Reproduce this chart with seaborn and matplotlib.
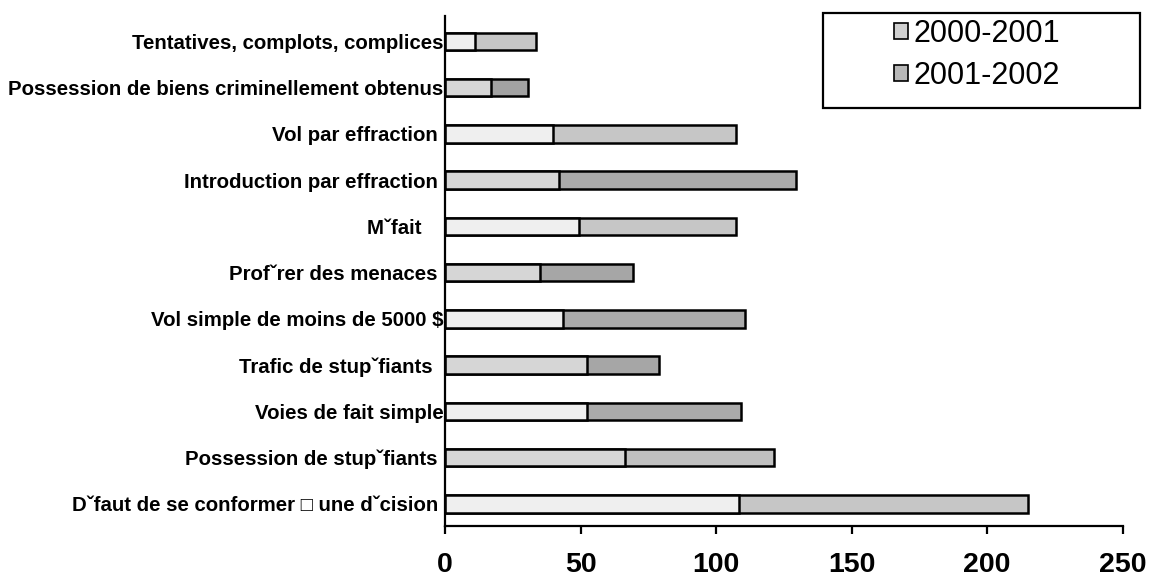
import matplotlib
matplotlib.use('Agg')
import matplotlib.pyplot as plt
import seaborn as sns
import pandas as pd
from matplotlib.patches import Patch, Rectangle

# Données
categories = [
    'Tentatives, complots, complices',
    'Possession de biens criminellement obtenus',
    'Vol par effraction ',
    'Introduction par effraction ',
    'M\u02c7fait    ',
    'Prof\u02c7rer des menaces ',
    'Vol simple de moins de 5000 $',
    'Trafic de stup\u02c7fiants  ',
    'Voies de fait simple',
    'Possession de stup\u02c7fiants ',
    'D\u02c7faut de se conformer \u25a1 une d\u02c7cision ',
]
v_2000_2001 = [11, 17, 40, 42, 49.5, 35, 43.5, 52.5, 52.3, 66.5, 108.3]
v_2001_2002 = [22.5, 13.5, 67.5, 87.5, 58, 34.5, 67, 26.5, 57, 55, 106.7]
series_names = ['2000-2001', '2001-2002']
xticks = [0, 50, 100, 150, 200, 250]

df = pd.DataFrame({'cat': categories, 'a': v_2000_2001, 'b': v_2001_2002})
df['total'] = df['a'] + df['b']

# couleurs qui alternent d'une barre à l'autre (comme dans l'original)
col_a = ['#efefef', '#d6d6d6'] * 6
col_b = ['#c6c6c6', '#a2a2a2', '#c6c6c6', '#aaaaaa', '#c6c6c6', '#a6a6a6',
         '#aaaaaa', '#a6a6a6', '#aaaaaa', '#c0c0c0', '#c6c6c6']

sns.set_style('white')
plt.rcParams['font.family'] = ['Liberation Sans', 'DejaVu Sans']

fig = plt.figure(figsize=(11.57, 5.79), dpi=100)
ax = fig.add_axes([445 / 1157, 1 - 525.7 / 579, 677.7 / 1157, 509.7 / 579])

# barres totales puis première série par-dessus
sns.barplot(data=df, x='total', y='cat', orient='h', color='#c6c6c6',
            width=0.38, edgecolor='black', linewidth=1.8, ax=ax)
n = len(categories)
for p, c in zip(ax.patches[:n], col_b):
    p.set_facecolor(c)
sns.barplot(data=df, x='a', y='cat', orient='h', color='#efefef',
            width=0.38, edgecolor='black', linewidth=1.8, ax=ax)
for p, c in zip(ax.patches[n:], col_a):
    p.set_facecolor(c)

ax.set_xlim(0, 250)
ax.set_ylim(n - 1 + 0.47, -0.55)
ax.set_xticks(xticks)
ax.set_xticklabels([str(t) for t in xticks], fontsize=20.5, fontweight='bold')
ax.tick_params(axis='x', bottom=True, length=6, width=1.6, direction='out',
               pad=13, colors='black')
ax.tick_params(axis='y', left=False, length=0, pad=1, labelsize=14.7,
               labelcolor='black')
for lab in ax.get_yticklabels():
    lab.set_fontweight('bold')
ax.set_xlabel('')
ax.set_ylabel('')
sns.despine(ax=ax)
for s in ['left', 'bottom']:
    ax.spines[s].set_linewidth(1.6)
    ax.spines[s].set_color('black')

# légende encadrée
fig.patches.append(Rectangle((823 / 1157, 1 - 108 / 579), 317 / 1157, 95.3 / 579,
                             transform=fig.transFigure, fill=False,
                             edgecolor='black', linewidth=1.6))
handles = [Patch(facecolor='#d0d0d0', edgecolor='black', linewidth=1.2),
           Patch(facecolor='#b8b8b8', edgecolor='black', linewidth=1.2)]
fig.legend(handles, series_names, loc='center', frameon=False,
           bbox_to_anchor=(977 / 1157, 1 - 55 / 579), fontsize=22,
           handlelength=0.45, handleheight=0.45, handletextpad=0.2,
           labelspacing=0.4, borderpad=0, labelcolor='black')

fig.savefig('out.png', dpi=100)
